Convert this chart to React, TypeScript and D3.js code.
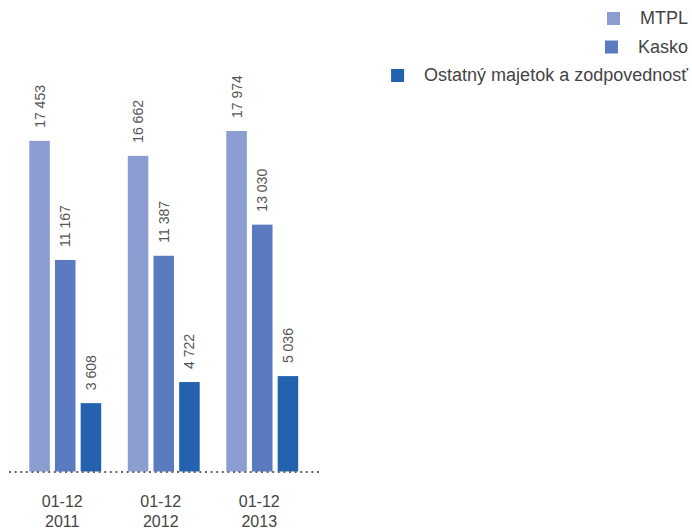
import React, { useEffect, useRef } from "react";
import * as d3 from "d3";

const periods = ["01-12\n2011", "01-12\n2012", "01-12\n2013"];
const seriesNames = ["MTPL", "Kasko", "Ostatný majetok a zodpovednosť"];
const seriesColors = ["#8b9dd1", "#5b7bc0", "#2462b0"];
const mtpl = [17453, 16662, 17974];
const kasko = [11167, 11387, 13030];
const ostatne = [3608, 4722, 5036];

const W = 692;
const H = 529;
const FONT = "'Liberation Sans', Arial, Helvetica, sans-serif";

const fmt = (v: number) => d3.format(",")(v).replace(/,/g, " ");

export default function App() {
  const ref = useRef<SVGSVGElement | null>(null);

  useEffect(() => {
    const svg = d3.select(ref.current);
    svg.selectAll("*").remove();

    const values = [mtpl, kasko, ostatne];
    const rows = periods.map((p, i) => ({
      period: p,
      vals: seriesNames.map((s, j) => ({ key: s, value: values[j][i], color: seriesColors[j] })),
    }));

    const x0 = d3
      .scaleBand<string>()
      .domain(periods)
      .range([16, 311.5])
      .paddingInner(0.27)
      .paddingOuter(0.135);
    const x1 = d3
      .scaleBand<string>()
      .domain(seriesNames)
      .range([0, x0.bandwidth()])
      .paddingInner(0.2);
    const y = d3.scaleLinear().domain([0, 18000]).range([471.5, 130.5]);

    const groups = svg
      .selectAll("g.grp")
      .data(rows)
      .join("g")
      .attr("class", "grp")
      .attr("transform", (d) => `translate(${x0(d.period)},0)`);

    groups
      .selectAll("rect")
      .data((d) => d.vals)
      .join("rect")
      .attr("x", (d) => x1(d.key)!)
      .attr("width", x1.bandwidth())
      .attr("y", (d) => y(d.value))
      .attr("height", (d) => y(0) - y(d.value))
      .attr("fill", (d) => d.color);

    groups
      .selectAll("text.val")
      .data((d) => d.vals)
      .join("text")
      .attr("class", "val")
      .attr("transform", (d) => {
        const cx = x1(d.key)! + x1.bandwidth() / 2 + 5;
        return `translate(${cx},${y(d.value) - 13}) rotate(-90)`;
      })
      .attr("font-family", FONT)
      .attr("font-size", 14)
      .attr("fill", "#555")
      .text((d) => fmt(d.value));

    // dotted baseline
    svg
      .append("line")
      .attr("x1", 9)
      .attr("x2", 319)
      .attr("y1", 472)
      .attr("y2", 472)
      .attr("stroke", "#666")
      .attr("stroke-width", 2)
      .attr("stroke-dasharray", "2,3.6");

    // category labels
    const axisLabels = svg
      .selectAll("text.cat")
      .data(periods)
      .join("text")
      .attr("class", "cat")
      .attr("font-family", FONT)
      .attr("font-size", 16)
      .attr("fill", "#444")
      .attr("text-anchor", "middle");
    axisLabels
      .selectAll("tspan")
      .data((p) => p.split("\n").map((line) => ({ line, p })))
      .join("tspan")
      .attr("x", (d) => x0(d.p)! + x0.bandwidth() / 2 - 3)
      .attr("y", (_d, i) => 507 + i * 20)
      .text((d) => d.line);

    // legend, right aligned
    const legend = svg.append("g");
    seriesNames.forEach((name, i) => {
      const yy = 12 + i * 28.5;
      const t = legend
        .append("text")
        .attr("x", 688)
        .attr("y", yy + 12)
        .attr("text-anchor", "end")
        .attr("font-family", FONT)
        .attr("font-size", 18)
        .attr("fill", "#444")
        .text(name);
      const w = (t.node() as SVGTextElement).getComputedTextLength();
      legend
        .append("rect")
        .attr("x", 688 - w - 20 - 13)
        .attr("y", yy)
        .attr("width", 13)
        .attr("height", 13)
        .attr("fill", seriesColors[i]);
    });
  }, []);

  return (
    <svg
      ref={ref}
      width={W}
      height={H}
      style={{ position: "absolute", left: 0, top: 0, background: "#fff" }}
    />
  );
}
